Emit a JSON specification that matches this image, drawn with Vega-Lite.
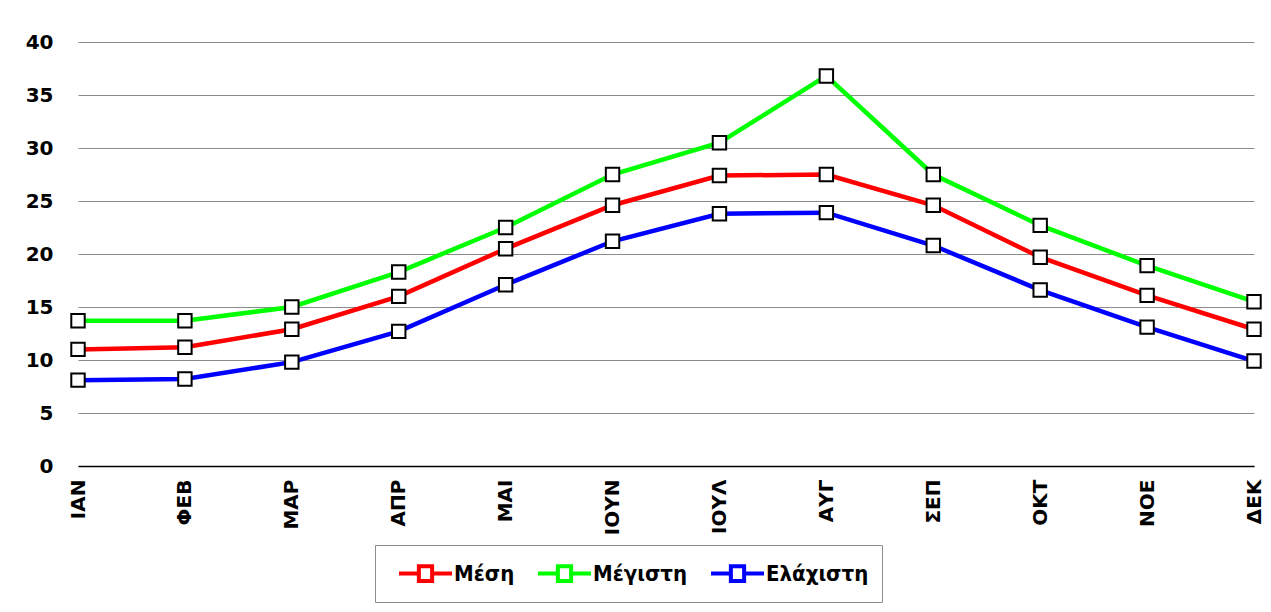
{
  "$schema": "https://vega.github.io/schema/vega-lite/v6.json",
  "autosize": "none",
  "width": 1176,
  "height": 424,
  "padding": {"left": 78, "top": 42, "right": 17, "bottom": 146},
  "background": "white",
  "data": {"values": [
    {"m": "ΙΑΝ", "s": "Μέση", "v": 11.0},
    {"m": "ΦΕΒ", "s": "Μέση", "v": 11.2},
    {"m": "ΜΑΡ", "s": "Μέση", "v": 12.9},
    {"m": "ΑΠΡ", "s": "Μέση", "v": 16.0},
    {"m": "ΜΑΙ", "s": "Μέση", "v": 20.5},
    {"m": "ΙΟΥΝ", "s": "Μέση", "v": 24.6},
    {"m": "ΙΟΥΛ", "s": "Μέση", "v": 27.4},
    {"m": "ΑΥΓ", "s": "Μέση", "v": 27.5},
    {"m": "ΣΕΠ", "s": "Μέση", "v": 24.6},
    {"m": "ΟΚΤ", "s": "Μέση", "v": 19.7},
    {"m": "ΝΟΕ", "s": "Μέση", "v": 16.1},
    {"m": "ΔΕΚ", "s": "Μέση", "v": 12.9},
    {"m": "ΙΑΝ", "s": "Μέγιστη", "v": 13.7},
    {"m": "ΦΕΒ", "s": "Μέγιστη", "v": 13.7},
    {"m": "ΜΑΡ", "s": "Μέγιστη", "v": 15.0},
    {"m": "ΑΠΡ", "s": "Μέγιστη", "v": 18.3},
    {"m": "ΜΑΙ", "s": "Μέγιστη", "v": 22.5},
    {"m": "ΙΟΥΝ", "s": "Μέγιστη", "v": 27.5},
    {"m": "ΙΟΥΛ", "s": "Μέγιστη", "v": 30.5},
    {"m": "ΑΥΓ", "s": "Μέγιστη", "v": 36.8},
    {"m": "ΣΕΠ", "s": "Μέγιστη", "v": 27.5},
    {"m": "ΟΚΤ", "s": "Μέγιστη", "v": 22.7},
    {"m": "ΝΟΕ", "s": "Μέγιστη", "v": 18.9},
    {"m": "ΔΕΚ", "s": "Μέγιστη", "v": 15.5},
    {"m": "ΙΑΝ", "s": "Ελάχιστη", "v": 8.1},
    {"m": "ΦΕΒ", "s": "Ελάχιστη", "v": 8.2},
    {"m": "ΜΑΡ", "s": "Ελάχιστη", "v": 9.8},
    {"m": "ΑΠΡ", "s": "Ελάχιστη", "v": 12.7},
    {"m": "ΜΑΙ", "s": "Ελάχιστη", "v": 17.1},
    {"m": "ΙΟΥΝ", "s": "Ελάχιστη", "v": 21.2},
    {"m": "ΙΟΥΛ", "s": "Ελάχιστη", "v": 23.8},
    {"m": "ΑΥΓ", "s": "Ελάχιστη", "v": 23.9},
    {"m": "ΣΕΠ", "s": "Ελάχιστη", "v": 20.8},
    {"m": "ΟΚΤ", "s": "Ελάχιστη", "v": 16.6},
    {"m": "ΝΟΕ", "s": "Ελάχιστη", "v": 13.1},
    {"m": "ΔΕΚ", "s": "Ελάχιστη", "v": 9.9}
  ]},
  "encoding": {
    "x": {
      "field": "m", "type": "ordinal",
      "sort": ["ΙΑΝ","ΦΕΒ","ΜΑΡ","ΑΠΡ","ΜΑΙ","ΙΟΥΝ","ΙΟΥΛ","ΑΥΓ","ΣΕΠ","ΟΚΤ","ΝΟΕ","ΔΕΚ"],
      "scale": {"type": "point", "padding": 0},
      "axis": {
        "title": null, "labelAngle": 270, "labelPadding": 13, "ticks": false,
        "grid": false, "domainColor": "#000000", "domainWidth": 1.5,
        "labelFont": "DejaVu Sans", "labelFontWeight": "bold", "labelFontSize": 20,
        "labelColor": "#000000", "labelBaseline": "middle"
      }
    },
    "y": {
      "field": "v", "type": "quantitative",
      "scale": {"domain": [0, 40]},
      "axis": {
        "title": null, "values": [0,5,10,15,20,25,30,35,40], "ticks": false, "domain": false,
        "labelPadding": 25, "labelFont": "DejaVu Sans", "labelFontWeight": "bold",
        "labelFontSize": 20, "labelColor": "#000000",
        "gridColor": "#8c8c8c", "gridWidth": 1.2
      }
    }
  },
  "layer": [
    {
      "mark": {"type": "line", "strokeWidth": 4.5},
      "encoding": {
        "color": {
          "field": "s", "type": "nominal",
          "scale": {"domain": ["Μέση","Μέγιστη","Ελάχιστη"], "range": ["#ff0000","#00ff00","#0000ff"]},
          "legend": {
            "title": null, "orient": "none", "direction": "horizontal",
            "legendX": 297, "legendY": 503,
            "strokeColor": "#8c8c8c", "fillColor": "white", "padding": 13,
            "symbolType": "M-2,0H-0.5M0.5,0H2M-0.5,-0.55H0.5V0.55H-0.5Z",
            "symbolSize": 702, "symbolStrokeWidth": 4, "symbolFillColor": "white",
            "symbolOffset": 22,
            "labelExpr": "datum.label == 'Ελάχιστη' ? datum.label + '\u00a0\u00a0\u00a0\u00a0\u00a0\u00a0' : datum.label",
            "labelFont": "'Liberation Sans Narrow', 'DejaVu Sans Condensed', sans-serif",
            "labelFontWeight": "bold", "labelFontSize": 22, "labelColor": "#000000",
            "labelOffset": 13, "columnPadding": 12, "labelLimit": 300
          }
        }
      }
    },
    {
      "mark": {"type": "point", "shape": "square", "filled": true, "fill": "white", "stroke": "black", "strokeWidth": 2, "size": 180, "opacity": 1},
      "encoding": {"detail": {"field": "s"}}
    }
  ],
  "config": {"view": {"stroke": null}}
}
